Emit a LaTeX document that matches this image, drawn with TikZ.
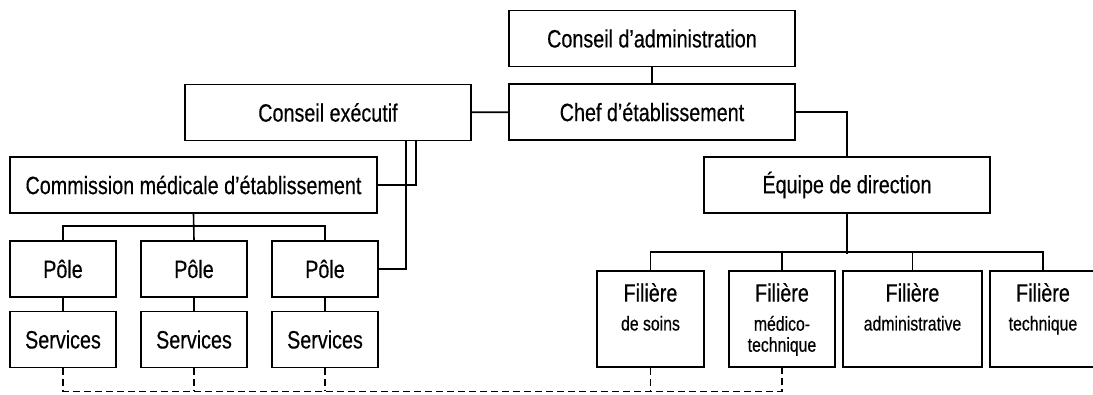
\documentclass[tikz,border=0pt]{standalone}
\usepackage{fontspec}
\setmainfont[FakeStretch=0.79,FakeBold=0.4]{Liberation Sans}
\usetikzlibrary{positioning}
\newcommand{\mainsize}{\fontsize{25}{28}\selectfont}
\newcommand{\subsize}{\fontsize{20}{21}\selectfont}
\newcommand{\filtxt}[2]{\parbox[c][74pt][t]{#1}{\centering\mainsize\strut Filière\par\subsize\vspace{5pt}#2\par}}
\begin{document}
\begin{tikzpicture}[x=1pt,y=-1pt,
  box/.style={draw,line width=1.6pt,inner sep=0pt,minimum height=56pt,font=\mainsize},
  link/.style={line width=1.6pt},
  dashlink/.style={link,dash pattern=on 7pt off 4pt}]
\useasboundingbox (0,0) rectangle (1093,394);
% direction
\node[box,minimum width=286pt] (admin) at (652,38.5) {Conseil d’administration};
\node[box,minimum width=286pt] (chef) at (652,112) {Chef d’établissement};
\node[box,minimum width=286pt] (execu) at (328,112.5) {Conseil exécutif};
\node[box,minimum width=367pt] (cme) at (193.5,185) {Commission médicale d’établissement};
\node[box,minimum width=286pt] (equipe) at (847,185) {Équipe de direction};
% poles
\foreach \x [count=\i] in {63,194,325} {
  \node[box,minimum width=106pt] (pole\i) at (\x,269) {Pôle};
  \node[box,minimum width=106pt] (serv\i) at (\x,339.5) {Services};
  \draw[link] (pole\i) -- (serv\i);
}
% filieres
\node[box,minimum width=107pt,minimum height=96pt] (fsoins) at (650.5,319) {\filtxt{100pt}{de soins}};
\node[box,minimum width=106pt,minimum height=96pt] (fmedico) at (782,319) {\filtxt{100pt}{médico-\\technique}};
\node[box,minimum width=139pt,minimum height=96pt] (fadmin) at (912.5,319) {\filtxt{130pt}{administrative}};
\node[box,minimum width=106pt,minimum height=96pt] (ftech) at (1043,319) {\filtxt{100pt}{technique}};
% links
\draw[link] (admin) -- (chef);
\draw[link] (execu) -- (chef);
\draw[link] (chef) -| (equipe);
\draw[link] (cme.east) -| ([xshift=88pt]execu.south);
\draw[link] (pole3.east) -| ([xshift=78pt]execu.south);
\draw[link] (cme.south) -- (pole2.north);
\draw[link] (pole1.north) -- ++(0,-14) -| (pole3.north);
\draw[link] (equipe.south) -- ++(0,40);
\draw[link] (fsoins.north) -- ++(0,-18) -| (ftech.north);
\draw[link] (fmedico.north) -- ++(0,-18);
\draw[link] (fadmin.north) -- ++(0,-18);
\draw[dashlink] (serv1.south) -- ++(0,23) -| (fmedico.south);
\draw[dashlink] (serv2.south) -- ++(0,23);
\draw[dashlink] (serv3.south) -- ++(0,23);
\draw[dashlink] (fsoins.south) -- ++(0,24);
\end{tikzpicture}
\end{document}
